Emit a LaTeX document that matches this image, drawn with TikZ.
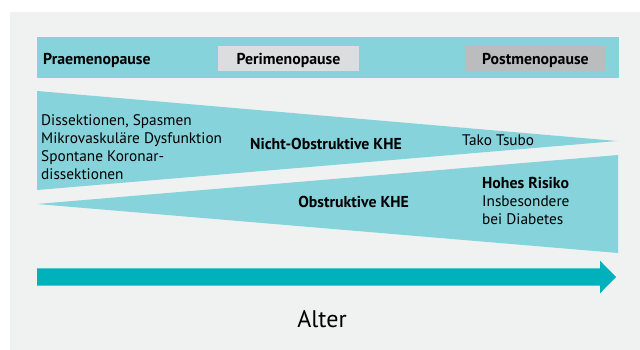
\documentclass[tikz,border=0pt]{standalone}
\usepackage{fontspec}
\setmainfont{PT Sans}
\usepackage{tikz}
\usetikzlibrary{positioning}
\definecolor{bgGray}{HTML}{F0F1F1}
\definecolor{lightTeal}{HTML}{86D3DB}
\definecolor{darkTeal}{HTML}{00B1BB}
\definecolor{periGray}{HTML}{DCDDDF}
\definecolor{postGray}{HTML}{BBBCBE}
\tikzset{x = 1pt, y = -1pt,
  phase/.style = {font=\bfseries\fontsize{15}{18}\selectfont, inner sep=0pt,
                  minimum width=141pt, minimum height=25pt},
  info/.style = {font=\fontsize{15.3}{18}\selectfont, align=left, inner sep=0pt},
  infobold/.style = {info, font=\bfseries\fontsize{15.8}{18}\selectfont}}

\begin{document}
\begin{tikzpicture}
    \fill[bgGray] (10,12) rectangle (640,350);
    \useasboundingbox (0,0) rectangle (640,350);
    % phases
    \fill[lightTeal] (37,37) rectangle (619,78.5);
    \node[phase, fill=periGray] (peri) at (288.5,58.2) {};
    \node[phase, fill=postGray] (post) at (535.5,58.2) {};
    \node[infobold, anchor=base west] (prae) at (43,64.3) {Praemenopause};
    \node[infobold, anchor=base] (peritext) at (peri.center |- prae.base) {Perimenopause};
    \node[infobold, anchor=base] (posttext) at (post.center |- prae.base) {Postmenopause};
    % wedges
    \coordinate (ntop) at (37,91);
    \coordinate (nbot) at (37,190);
    \coordinate (ntip) at (617,141);
    \coordinate (otip) at (37,204);
    \coordinate (otop) at (618,155);
    \coordinate (obot) at (618,253);
    \fill[lightTeal] (ntop) -- (ntip) -- (nbot) -- cycle;
    \fill[lightTeal] (otip) -- (otop) -- (obot) -- cycle;
    \node[info, anchor=north west] (causes) at (41,114.8)
        {Dissektionen, Spasmen\\Mikrovaskuläre Dysfunktion\\Spontane Koronar-\\dissektionen};
    \node[infobold, anchor=base] (nokhe) at (326,149.3) {Nicht-Obstruktive KHE};
    \node[info, anchor=base west] (tako) at (462,146) {Tako Tsubo};
    \node[infobold, anchor=base] (okhe) at (353.7,207.3) {Obstruktive KHE};
    \node[infobold, anchor=base west] (risk) at (482,188.3) {Hohes Risiko};
    \node[info, anchor=north west] (diab) at (482,195.5) {Insbesondere\\bei Diabetes};
    % age arrow
    \coordinate (astart) at (37,277);
    \coordinate (aend) at (616,277);
    \fill[darkTeal] (astart) ++(0,-8.7) -- (600,268.3) -- (600,260.7) -- (aend)
        -- (600,293.3) -- (600,285.7) -- ++(-563,0) -- cycle;
    \node[font=\fontsize{24}{28}\selectfont, inner sep=0pt, anchor=base] (age) at (322,327.7) {Alter};
\end{tikzpicture}
\end{document}
